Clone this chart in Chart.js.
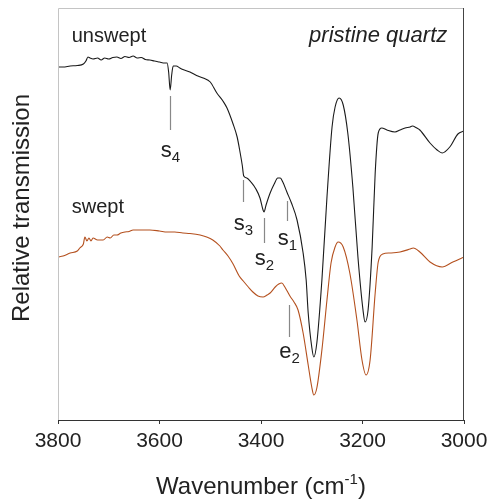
<!DOCTYPE html>
<html>
<head>
<meta charset="utf-8">
<script src="https://cdn.jsdelivr.net/npm/chart.js@4.4.1/dist/chart.umd.min.js"></script>
<style>
  html, body { margin: 0; padding: 0; background: #fff; }
</style>
</head>
<body>
<canvas id="spectrum" width="489" height="501"></canvas>
<script>
// wavenumber (cm-1) and relative transmission (arbitrary units)
const unsweptWn = [3800, 3790, 3776, 3762, 3750, 3745, 3741, 3737, 3731, 3722, 3715, 3708, 3700, 3692, 3684, 3676,
  3668, 3660, 3652, 3644, 3636, 3628, 3619, 3610, 3600, 3590, 3585, 3582, 3579, 3576, 3573, 3567, 3560, 3554,
  3540, 3527, 3514, 3500, 3487, 3475, 3467, 3455, 3447, 3441, 3437, 3434, 3428, 3420, 3410, 3402, 3396, 3394,
  3390, 3382, 3374, 3367, 3362, 3357, 3349, 3340, 3329, 3317, 3311, 3307, 3300, 3296, 3290, 3280, 3270, 3260,
  3254, 3246, 3238, 3229, 3219, 3209, 3199, 3195, 3189, 3181, 3175, 3169, 3162, 3152, 3136, 3126, 3116, 3106,
  3102, 3093, 3087, 3067, 3053, 3043, 3028, 3012, 3000];
const unsweptVal = [353, 353, 354, 354.5, 356, 359, 363, 362, 361, 362, 360, 362, 361, 362.5, 363, 361.5,
  363.5, 362.5, 364, 362, 362.5, 360.5, 360, 359, 358, 357, 357, 348, 330, 345, 354, 354, 352, 350.5,
  348, 344.5, 342, 338, 327, 319, 312, 296, 283, 267, 255, 244, 242, 238, 231, 222, 210, 208,
  215, 227, 236, 242, 242, 238, 228, 217, 200, 167, 140, 107, 73, 63, 77, 140, 223, 293,
  313, 322, 315, 287, 233, 163, 110, 98, 110, 173, 247, 287, 292, 290, 288, 290, 292, 293,
  294, 292, 290, 277, 270, 267, 273, 286, 289];

const sweptWn = [3800, 3790, 3776, 3762, 3757, 3750, 3747, 3743, 3739, 3735, 3731, 3722, 3711, 3703, 3697, 3690,
  3684, 3676, 3668, 3660, 3652, 3636, 3619, 3600, 3585, 3570, 3554, 3540, 3520, 3507, 3495, 3481, 3475, 3465,
  3455, 3443, 3435, 3425, 3416, 3406, 3396, 3388, 3382, 3372, 3365, 3359, 3353, 3343, 3335, 3327, 3317, 3307,
  3300, 3296, 3290, 3280, 3270, 3262, 3254, 3248, 3238, 3225, 3211, 3201, 3193, 3185, 3175, 3169, 3160, 3146,
  3126, 3106, 3100, 3087, 3067, 3043, 3022, 3000];
const sweptVal = [163, 164, 167, 169, 172, 176, 183, 179, 182, 179, 182, 180, 180, 183, 182, 185,
  185, 187, 188, 188.5, 190, 190, 190, 189, 188, 188, 187, 186.5, 185, 183, 180, 174, 170, 164,
  156, 144, 139, 133, 128, 124, 123, 125, 127, 133, 136, 137, 133, 124, 118, 110, 87, 55,
  33, 25, 32, 70, 120, 157, 173, 178, 173, 147, 100, 60, 45, 60, 127, 158, 166, 167,
  168, 171, 172, 168, 158, 153, 158, 163];

const xTicks = [3800, 3600, 3400, 3200, 3000];

// band markers: [main, subscript, wavenumber, line top, line bottom, text baseline]
const markers = [
  ['s', '4', 3579, 324, 290, 263],
  ['s', '3', 3435, 240, 218, 190],
  ['s', '2', 3394, 202, 177, 155],
  ['s', '1', 3349, 219, 199, 175],
  ['e', '2', 3345, 115, 83, 62]
];

const FONT = '"Liberation Sans", Arial, Helvetica, sans-serif';

const decorations = {
  id: 'decorations',
  afterDatasetsDraw(chart) {
    const { ctx, chartArea: a, scales: { x, y } } = chart;
    ctx.save();
    // frame
    ctx.lineWidth = 1;
    ctx.strokeStyle = '#c4c4c4';
    ctx.beginPath();
    ctx.moveTo(a.left + 0.5, a.bottom);
    ctx.lineTo(a.left + 0.5, a.top + 0.5);
    ctx.lineTo(a.right, a.top + 0.5);
    ctx.stroke();
    ctx.strokeStyle = '#444';
    ctx.beginPath();
    ctx.moveTo(a.right - 0.5, a.top);
    ctx.lineTo(a.right - 0.5, a.bottom);
    ctx.stroke();

    // markers
    ctx.fillStyle = '#222';
    markers.forEach(([m, sub, wn, y0, y1, base]) => {
      const px = Math.round(x.getPixelForValue(wn)) + 0.5;
      ctx.strokeStyle = '#888';
      ctx.lineWidth = 1.2;
      ctx.beginPath();
      ctx.moveTo(px, y.getPixelForValue(y0));
      ctx.lineTo(px, y.getPixelForValue(y1));
      ctx.stroke();
      ctx.font = '22px ' + FONT;
      const w1 = ctx.measureText(m).width;
      ctx.font = '15px ' + FONT;
      const w2 = ctx.measureText(sub).width;
      const left = px - (w1 + w2) / 2;
      const by = y.getPixelForValue(base);
      ctx.textAlign = 'left';
      ctx.textBaseline = 'alphabetic';
      ctx.font = '22px ' + FONT;
      ctx.fillText(m, left, by);
      ctx.font = '15px ' + FONT;
      ctx.fillText(sub, left + w1, by + 5);
    });

    // curve labels
    ctx.font = '20px ' + FONT;
    ctx.textAlign = 'left';
    ctx.fillText('unswept', x.getPixelForValue(3773), y.getPixelForValue(378));
    ctx.fillText('swept', x.getPixelForValue(3773), y.getPixelForValue(207));
    ctx.font = 'italic 22px ' + FONT;
    ctx.textAlign = 'right';
    ctx.fillText('pristine quartz', x.getPixelForValue(3033), y.getPixelForValue(378));

    // axis titles
    ctx.fillStyle = '#222';
    ctx.font = '24px ' + FONT;
    ctx.textAlign = 'left';
    const t1 = 'Wavenumber (cm', t2 = '-1', t3 = ')';
    const w1 = ctx.measureText(t1).width;
    const w3 = ctx.measureText(t3).width;
    ctx.font = '15px ' + FONT;
    const w2 = ctx.measureText(t2).width;
    let tx = (a.left + a.right) / 2 - (w1 + w2 + w3) / 2;
    const ty = 494;
    ctx.font = '24px ' + FONT;
    ctx.fillText(t1, tx, ty);
    ctx.font = '15px ' + FONT;
    ctx.fillText(t2, tx + w1, ty - 10);
    ctx.font = '24px ' + FONT;
    ctx.fillText(t3, tx + w1 + w2, ty);

    ctx.translate(22, 208);
    ctx.rotate(-Math.PI / 2);
    ctx.textAlign = 'center';
    ctx.textBaseline = 'middle';
    ctx.fillText('Relative transmission', 0, 0);
    ctx.restore();
  }
};

new Chart(document.getElementById('spectrum'), {
  type: 'line',
  data: {
    datasets: [
      {
        label: 'unswept',
        data: unsweptWn.map((w, i) => ({ x: w, y: unsweptVal[i] })),
        borderColor: '#1a1a1a',
        borderWidth: 1.1,
        pointRadius: 0,
        cubicInterpolationMode: 'monotone'
      },
      {
        label: 'swept',
        data: sweptWn.map((w, i) => ({ x: w, y: sweptVal[i] })),
        borderColor: '#b4501e',
        borderWidth: 1.1,
        pointRadius: 0,
        cubicInterpolationMode: 'monotone'
      }
    ]
  },
  options: {
    responsive: false,
    animation: false,
    layout: { padding: { left: 58, top: 8, right: 25, bottom: 0 } },
    plugins: { legend: { display: false }, tooltip: { enabled: false } },
    scales: {
      x: {
        type: 'linear',
        reverse: true,
        min: 3000,
        max: 3800,
        afterBuildTicks(scale) { scale.ticks = xTicks.map(v => ({ value: v })); },
        afterFit(scale) {
          scale.height = 81;
          scale.paddingLeft = 0;
          scale.paddingRight = 0;
        },
        grid: { drawOnChartArea: false, drawTicks: true, tickLength: 4, color: '#333' },
        border: { color: '#333', width: 1 },
        ticks: {
          color: '#222', padding: 5, maxRotation: 0, font: { size: 21, family: FONT },
          callback: v => String(v)
        }
      },
      y: {
        display: false,
        min: 0,
        max: 412
      }
    }
  },
  plugins: [decorations]
});
</script>
</body>
</html>
